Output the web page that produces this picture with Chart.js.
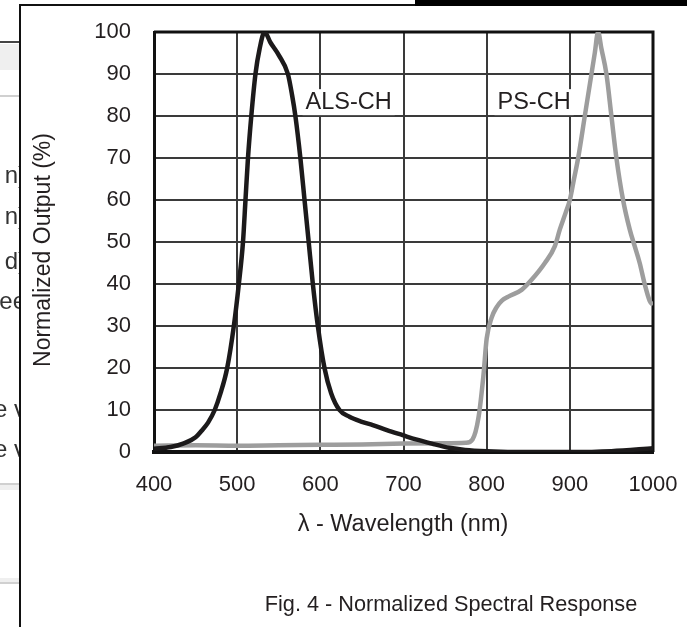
<!DOCTYPE html>
<html><head><meta charset="utf-8">
<script src="https://cdn.jsdelivr.net/npm/chart.js@4.4.0/dist/chart.umd.min.js"></script>
<style>html,body{margin:0;padding:0;background:#fff;}#wrap{width:687px;height:627px;position:relative}</style>
</head><body><div id="wrap"><canvas id="c" width="687" height="627"></canvas></div>
<script>
// ALS-CH (black) : wavelength (nm) and normalized output (%)
const alsWavelength = [400,420,435,450,457,465,473,480,488,496,502,507,510,513,517,522,527,533,540,550,561,566,570,576,581,586,591,597,605,613,623,635,650,663,680,699,715,734,755,774,800,850,900,950,1000];
const alsOutput     = [0.8,1.2,2,3.5,5,7,10,14,20,30,40,50,60,70,80,90,96,100,97.5,94.5,90,85,80,70,60,50,40,30,20,14,10,8.4,7.2,6.4,5.2,4,3,2,1,0.5,0.2,0,0,0.2,0.9];
// PS-CH (grey)
const psWavelength = [400,450,500,550,600,650,700,750,775,783,790,796,800,806,812,818,826,842,854,870,882,888,895,900,905,910,918,926,930,934,938,944,950,956,964,972,978,984,990,996,1000];
const psOutput     = [1.5,1.6,1.5,1.6,1.7,1.8,2,2.1,2.2,3,8,18,27,32,34.5,36,37,38.6,41,45,49,53,57,60,65,70,80,90,95,100,96,90,80,70,60,53,49,45,40,36,35];
const xTickValues = [400,500,600,700,800,900,1000];
const yTickValues = [0,10,20,30,40,50,60,70,80,90,100];
const seriesLabels = ['ALS-CH','PS-CH'];
const xTitle = 'λ - Wavelength (nm)';
const yTitle = 'Normalized Output (%)';
const caption = 'Fig. 4 - Normalized Spectral Response';

const FONT = "'Liberation Sans', Arial, Helvetica, sans-serif";
const TXT = '#231f20';

const toPts = (xs, ys) => xs.map((x, i) => ({x, y: ys[i]}));

const decor = {
  id: 'decor',
  beforeDraw(chart) {
    const ctx = chart.ctx;
    ctx.save();
    ctx.fillStyle = '#fff';
    ctx.fillRect(0, 0, 687, 627);
    // background document fragments on the left
    ctx.fillStyle = '#efefef';
    ctx.fillRect(0, 44, 20, 26);
    ctx.fillRect(0, 485, 20, 98);
    ctx.fillStyle = '#fff';
    ctx.fillRect(0, 490, 20, 88);
    ctx.strokeStyle = '#444';
    ctx.lineWidth = 2;
    ctx.beginPath(); ctx.moveTo(0, 42); ctx.lineTo(20, 42); ctx.stroke();
    ctx.strokeStyle = '#d0d0d0';
    [96, 484, 583].forEach(y => { ctx.beginPath(); ctx.moveTo(0, y); ctx.lineTo(20, y); ctx.stroke(); });
    ctx.fillStyle = '#333';
    ctx.font = '24px ' + FONT;
    ctx.textBaseline = 'middle';
    ctx.textAlign = 'right';
    [['n)', 176], ['n)', 217], ['d)', 262], ['ee', 302], ['e v', 410], ['e v', 450]].forEach(([t, y]) => ctx.fillText(t, 26, y));
    // panel
    ctx.fillStyle = '#fff';
    ctx.fillRect(21, 6, 666, 621);
    ctx.strokeStyle = '#111';
    ctx.lineWidth = 2;
    ctx.beginPath(); ctx.moveTo(20, 627); ctx.lineTo(20, 5); ctx.lineTo(415, 5); ctx.stroke();
    ctx.fillStyle = '#000';
    ctx.fillRect(415, 0, 272, 6);
    ctx.restore();
  },
  beforeDatasetsDraw(chart) {
    const ctx = chart.ctx, a = chart.chartArea;
    const xs = chart.scales.x, ys = chart.scales.y;
    ctx.save();
    // frame top and right
    ctx.strokeStyle = '#111';
    ctx.lineWidth = 3;
    ctx.beginPath();
    ctx.moveTo(a.left, a.top); ctx.lineTo(a.right, a.top); ctx.lineTo(a.right, a.bottom);
    ctx.stroke();
    // series labels with white background
    ctx.font = '23.5px ' + FONT;
    ctx.textAlign = 'center';
    ctx.textBaseline = 'middle';
    [[seriesLabels[0], 634, 83.3], [seriesLabels[1], 857, 83.3]].forEach(([t, xv, yv]) => {
      const px = xs.getPixelForValue(xv), py = ys.getPixelForValue(yv);
      const w = ctx.measureText(t).width + 6;
      ctx.fillStyle = '#fff';
      ctx.fillRect(px - w / 2, py - 13, w, 26);
      ctx.fillStyle = TXT;
      ctx.fillText(t, px, py);
    });
    ctx.restore();
  },
  afterDraw(chart) {
    const ctx = chart.ctx, a = chart.chartArea;
    ctx.save();
    ctx.fillStyle = TXT;
    ctx.textAlign = 'center';
    ctx.textBaseline = 'middle';
    ctx.font = '23.5px ' + FONT;
    ctx.fillText(xTitle, 403, 525);
    ctx.font = '21.7px ' + FONT;
    ctx.fillText(caption, 451, 605);
    ctx.font = '23px ' + FONT;
    ctx.translate(44, 250);
    ctx.rotate(-Math.PI / 2);
    ctx.fillText(yTitle, 0, 0);
    ctx.restore();
  }
};

new Chart(document.getElementById('c'), {
  type: 'scatter',
  data: {
    datasets: [
      { label: seriesLabels[1], data: toPts(psWavelength, psOutput), showLine: true, borderColor: '#9d9d9d', borderWidth: 4.5, pointRadius: 0, cubicInterpolationMode: 'monotone', order: 2 },
      { label: seriesLabels[0], data: toPts(alsWavelength, alsOutput), showLine: true, borderColor: '#1c1a1b', borderWidth: 4.5, pointRadius: 0, cubicInterpolationMode: 'monotone', order: 1 }
    ]
  },
  options: {
    responsive: false,
    animation: false,
    devicePixelRatio: 1,
    layout: { padding: { top: 32, right: 34, left: 0, bottom: 0 } },
    plugins: { legend: { display: false }, tooltip: { enabled: false } },
    scales: {
      x: {
        type: 'linear', min: 400, max: 1000,
        afterBuildTicks: s => { s.ticks = xTickValues.map(v => ({value: v})); },
        afterFit: s => { s.height = 175; s.paddingLeft = 0; s.paddingRight = 0; },
        ticks: { color: TXT, font: { family: FONT, size: 22 }, padding: 20, maxRotation: 0, callback: v => String(v) },
        grid: { color: '#3a3a3a', lineWidth: 2, drawTicks: false },
        border: { color: '#111', width: 4 }
      },
      y: {
        min: 0, max: 100,
        afterBuildTicks: s => { s.ticks = yTickValues.map(v => ({value: v})); },
        afterFit: s => { s.width = 154; s.paddingTop = 0; s.paddingBottom = 0; },
        ticks: { color: TXT, font: { family: FONT, size: 22 }, padding: 23, callback: v => String(v) },
        grid: { color: '#3a3a3a', lineWidth: 2, drawTicks: false },
        border: { color: '#111', width: 3 }
      }
    }
  },
  plugins: [decor]
});
</script>
</body></html>
